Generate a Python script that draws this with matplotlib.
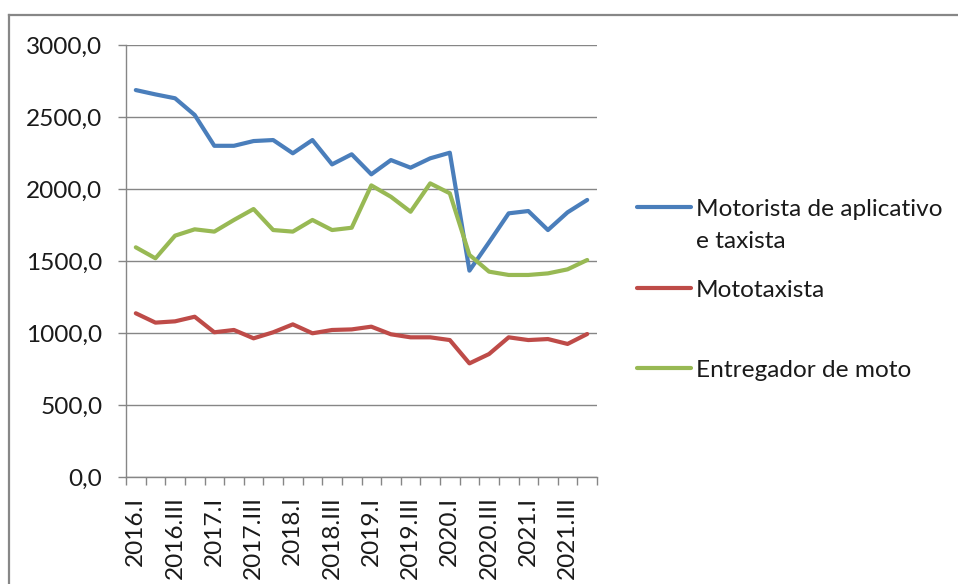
import matplotlib
matplotlib.use("Agg")
import matplotlib.pyplot as plt
from matplotlib.lines import Line2D
import numpy as np

plt.rcParams['font.family'] = ['Lato', 'DejaVu Sans']

quarters = ["2016.I", "2016.II", "2016.III", "2016.IV",
            "2017.I", "2017.II", "2017.III", "2017.IV",
            "2018.I", "2018.II", "2018.III", "2018.IV",
            "2019.I", "2019.II", "2019.III", "2019.IV",
            "2020.I", "2020.II", "2020.III", "2020.IV",
            "2021.I", "2021.II", "2021.III", "2021.IV"]

motorista = [2687, 2657, 2630, 2514, 2300, 2300, 2333, 2340, 2248, 2340,
             2171, 2241, 2102, 2201, 2148, 2213, 2252, 1433, 1630, 1831,
             1847, 1715, 1838, 1924]
mototaxista = [1137, 1072, 1081, 1113, 1005, 1021, 963, 1005, 1060, 998,
               1021, 1025, 1044, 991, 970, 970, 951, 789, 854, 970,
               951, 958, 924, 993]
entregador = [1595, 1519, 1676, 1720, 1704, 1785, 1861, 1715, 1704, 1785,
              1715, 1731, 2025, 1946, 1842, 2039, 1970, 1542, 1426, 1403,
              1403, 1414, 1442, 1507]

series_names = [["Motorista de aplicativo", "e taxista"], ["Mototaxista"], ["Entregador de moto"]]
colors = ["#4A7EBB", "#BE4B48", "#98B954"]

W, H = 958, 584
FS = 17.6
fig = plt.figure(figsize=(W / 100, H / 100), dpi=100)
ax = fig.add_axes([126 / W, 1 - 477 / H, (597 - 126) / W, (477 - 45) / H])

x = np.arange(len(quarters))
for vals, c, name in zip([motorista, mototaxista, entregador], colors, series_names):
    ax.plot(x, vals, color=c, lw=3.0, solid_capstyle='round', solid_joinstyle='round', label=" ".join(name))

grid_c = "#868686"
ax.set_xlim(-0.5, len(quarters) - 0.5)
ax.set_ylim(0, 3000)
ax.set_yticks(np.arange(0, 3001, 500))
ax.set_yticklabels([f"{v:.1f}".replace('.', ',') for v in np.arange(0, 3001, 500)])
ax.yaxis.grid(True, color=grid_c, lw=1.0)
ax.set_axisbelow(True)

for s in ['top', 'right']:
    ax.spines[s].set_visible(False)
for s in ['left', 'bottom']:
    ax.spines[s].set_color(grid_c)
    ax.spines[s].set_linewidth(1.0)

ax.tick_params(axis='y', length=6, width=1, color=grid_c, pad=11, labelsize=FS, labelcolor='#1a1a1a')
# x: ticks at boundaries, labels at every other category center
ax.set_xticks(np.arange(-0.5, len(quarters), 1.0))
ax.set_xticklabels([])
ax.tick_params(axis='x', which='major', length=6, width=1, color=grid_c)
ax.set_xticks(x[::2], minor=True)
ax.set_xticklabels([quarters[i] for i in x[::2]], minor=True, rotation=90, fontsize=FS, color='#1a1a1a')
ax.tick_params(axis='x', which='minor', length=0, pad=14)

# outer chart border
fig.add_artist(Line2D([9 / W, 1.0], [1 - 15 / H, 1 - 15 / H], color="#878787", lw=1.6, transform=fig.transFigure))
fig.add_artist(Line2D([9 / W, 9 / W], [1 - 15 / H, 0.0], color="#878787", lw=1.6, transform=fig.transFigure))

# legend drawn to match the reference layout
leg_y = [207, 288, 368]
for yy, c, lines in zip(leg_y, colors, series_names):
    fig.add_artist(Line2D([637 / W, 691 / W], [1 - yy / H, 1 - yy / H], color=c, lw=3.0,
                          solid_capstyle='round', transform=fig.transFigure))
    for k, line in enumerate(lines):
        base = yy + 9 + 32 * k
        fig.text(696 / W, 1 - base / H, line, fontsize=FS, va='baseline', ha='left',
                 color='#1a1a1a')

fig.savefig("out.png", dpi=100)
